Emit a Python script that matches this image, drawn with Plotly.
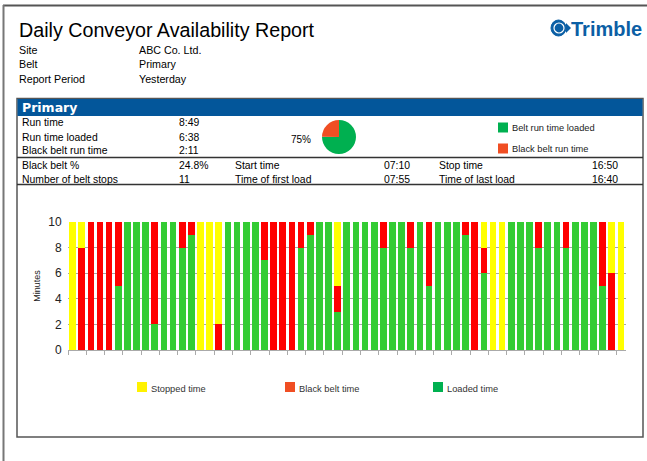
import plotly.graph_objects as go

W, H = 647, 461
FONT = "Liberation Sans, Arial, sans-serif"

# ---------------- data ----------------
intervals = [str(i) for i in range(1, 62)]
loaded = [0, 0, 0, 0, 0, 5, 10, 10, 10, 2,
          10, 10, 8, 9, 0, 0, 0, 10, 10, 10,
          10, 7, 0, 0, 0, 8, 9, 10, 10, 3,
          10, 10, 10, 10, 8, 10, 10, 8, 10, 5,
          10, 10, 10, 9, 0, 6, 0, 0, 10, 10,
          10, 8, 10, 10, 8, 10, 10, 10, 5, 0, 0]
black = [0, 8, 10, 10, 10, 5, 0, 0, 0, 8,
         0, 0, 2, 1, 0, 0, 2, 0, 0, 0,
         0, 3, 10, 10, 10, 2, 1, 0, 0, 2,
         0, 0, 0, 0, 2, 0, 0, 2, 0, 5,
         0, 0, 0, 1, 10, 2, 0, 0, 0, 0,
         0, 2, 0, 0, 2, 0, 0, 0, 5, 6, 0]
stopped = [10, 2, 0, 0, 0, 0, 0, 0, 0, 0,
           0, 0, 0, 0, 10, 10, 8, 0, 0, 0,
           0, 0, 0, 0, 0, 0, 0, 0, 0, 5,
           0, 0, 0, 0, 0, 0, 0, 0, 0, 0,
           0, 0, 0, 0, 0, 2, 10, 10, 0, 0,
           0, 0, 0, 0, 0, 0, 0, 0, 0, 4, 10]
series_names = ["Stopped time", "Black belt time", "Loaded time"]
y_ticks = [0, 2, 4, 6, 8, 10]

title_text = "Daily Conveyor Availability Report"
info_labels = ["Site", "Belt", "Report Period"]
info_values = ["ABC Co. Ltd.", "Primary", "Yesterday"]
belt_name = "Primary"
upper_labels = ["Run time", "Run time loaded", "Black belt run time"]
upper_values = ["8:49", "6:38", "2:11"]
pie_labels = ["Belt run time loaded", "Black belt run time"]
pie_values = [75.2, 24.8]
pie_pct_text = "75%"
lower_labels = ["Black belt %", "Number of belt stops"]
lower_values = ["24.8%", "11"]
mid_labels = ["Start time", "Time of first load"]
mid_values = ["07:10", "07:55"]
right_labels = ["Stop time", "Time of last load"]
right_values = ["16:50", "16:40"]

# ---------------- helpers ----------------
def px(x):
    return x / W

def py(y):
    return 1 - y / H

annotations = []
shapes = []

def text(x, y, s, size=11, color="#000", anchor="left", bold=False, family=FONT):
    annotations.append(dict(
        x=px(x), y=py(y), xref="paper", yref="paper", text=f"<b>{s}</b>" if bold else s,
        showarrow=False, xanchor=anchor, yanchor="middle",
        font=dict(size=size, color=color, family=family)))

def rect(x0, y0, x1, y1, fill=None, line=None, lw=1):
    shapes.append(dict(type="rect", xref="paper", yref="paper",
                       x0=px(x0), x1=px(x1), y0=py(y1), y1=py(y0),
                       fillcolor=fill or "rgba(0,0,0,0)",
                       line=dict(color=line or "rgba(0,0,0,0)", width=lw if line else 0)))

def hline(x0, x1, y, color="#333", lw=1):
    shapes.append(dict(type="line", xref="paper", yref="paper",
                       x0=px(x0), x1=px(x1), y0=py(y), y1=py(y),
                       line=dict(color=color, width=lw)))

def vline(x, y0, y1, color="#333", lw=1):
    shapes.append(dict(type="line", xref="paper", yref="paper",
                       x0=px(x), x1=px(x), y0=py(y0), y1=py(y1),
                       line=dict(color=color, width=lw)))

TS = 10.4   # table text size

# ---------------- page frame ----------------
hline(3, 660, 5.5, color="#555", lw=2)
vline(3.5, 5, 470, color="#777", lw=2)

# header
text(17, 30, title_text, size=19.7, color="#000")
for i, (lab, val) in enumerate(zip(info_labels, info_values)):
    yy = 50 + i * 14.5
    text(17, yy, lab, size=10.7)
    text(137, yy, val, size=10.7)

# logo
shapes.append(dict(type="circle", xref="paper", yref="paper",
                   x0=px(551), x1=px(566), y0=py(36), y1=py(20),
                   fillcolor="#0b5fa5", line=dict(color="#0b5fa5", width=1)))
shapes.append(dict(type="circle", xref="paper", yref="paper",
                   x0=px(554), x1=px(564), y0=py(33), y1=py(23),
                   fillcolor="rgba(0,0,0,0)", line=dict(color="white", width=1.2)))
shapes.append(dict(type="path", xref="paper", yref="paper",
                   path=f"M {px(566)},{py(23)} L {px(571)},{py(28)} L {px(566)},{py(33)} Z",
                   fillcolor="#0b5fa5", line=dict(width=0)))
text(569, 29, "Trimble", size=20, color="#0b5fa5", bold=True)

# ---------------- primary box ----------------
rect(17, 98.5, 643, 437, line="#555", lw=1.5)
rect(17.5, 99, 642.5, 116, fill="#03569a")
text(20, 107.5, belt_name, size=12.5, color="white", bold=True, family="DejaVu Sans, Verdana, sans-serif")
for i, (lab, val) in enumerate(zip(upper_labels, upper_values)):
    yy = 123 + i * 14
    text(20, yy, lab, size=TS)
    text(177, yy, val, size=TS)
text(289, 140, pie_pct_text, size=10)
hline(17, 643, 157.5, color="#333", lw=1.5)
for i in range(2):
    yy = 165 + i * 14
    text(20, yy, lower_labels[i], size=TS)
    text(177, yy, lower_values[i], size=TS)
    text(233, yy, mid_labels[i], size=TS)
    text(412, yy, mid_values[i], size=TS, anchor="right")
    text(437, yy, right_labels[i], size=TS)
    text(620, yy, right_values[i], size=TS, anchor="right")
hline(17, 643, 184.5, color="#333", lw=1.5)

# pie legend
pie_colors = ["#00b050", "#f04e23"]
for i, lab in enumerate(pie_labels):
    yy = 127.5 + i * 21
    rect(498, yy - 5, 508, yy + 5, fill=pie_colors[i])
    text(510, yy + 0.5, lab, size=9.3, color="#222")

# bar legend
leg_colors = ["#fff200", "#f04e23", "#00b050"]
leg_x = [137, 285, 433]
for name, c, x in zip(series_names, leg_colors, leg_x):
    rect(x, 382, x + 10, 392, fill=c)
    text(x + 12, 388.5, name, size=9.3, color="#333")

# ---------------- figure ----------------
fig = go.Figure()
bar_colors = {"Loaded time": "#33cc33", "Black belt time": "#ff0000", "Stopped time": "#ffff00"}
for name, vals in [("Loaded time", loaded), ("Black belt time", black), ("Stopped time", stopped)]:
    fig.add_trace(go.Bar(x=intervals, y=vals, name=name, marker=dict(color=bar_colors[name], line=dict(width=0)),
                         showlegend=False, hoverinfo="skip"))

fig.add_trace(go.Pie(labels=pie_labels, values=pie_values, sort=False, direction="clockwise", rotation=0,
                     marker=dict(colors=pie_colors, line=dict(width=0)), textinfo="none",
                     showlegend=False, hoverinfo="skip", automargin=False,
                     domain=dict(x=[px(322), px(356)], y=[py(154), py(120)])))

fig.update_layout(
    width=W, height=H, margin=dict(l=0, r=0, t=0, b=0, autoexpand=False),
    paper_bgcolor="white", plot_bgcolor="white",
    barmode="stack", bargap=0.27, showlegend=False,
    font=dict(family=FONT, size=11, color="#222"),
    xaxis=dict(domain=[px(68), px(625.5)], type="category", showticklabels=False, automargin=False,
               ticks="outside", tickson="boundaries", ticklen=4, tickcolor="#aaa",
               showline=True, linecolor="#aaa", linewidth=1, showgrid=False, zeroline=False),
    yaxis=dict(domain=[py(350), py(222)], range=[0, 10], tickvals=y_ticks, automargin=False,
               showgrid=True, gridcolor="#a6a6a6", gridwidth=1, zeroline=False,
               showline=False, ticks="outside", ticklen=3, tickcolor="rgba(0,0,0,0)",
               tickfont=dict(size=12, color="#222"),
               title=dict(text="Minutes", font=dict(size=9, color="#222"), standoff=6)),
    annotations=annotations, shapes=shapes,
)

fig.write_html("out.html", config={"responsive": False, "displayModeBar": False},
               post_script="document.body.style.margin='0px';document.body.style.overflow='hidden';")
